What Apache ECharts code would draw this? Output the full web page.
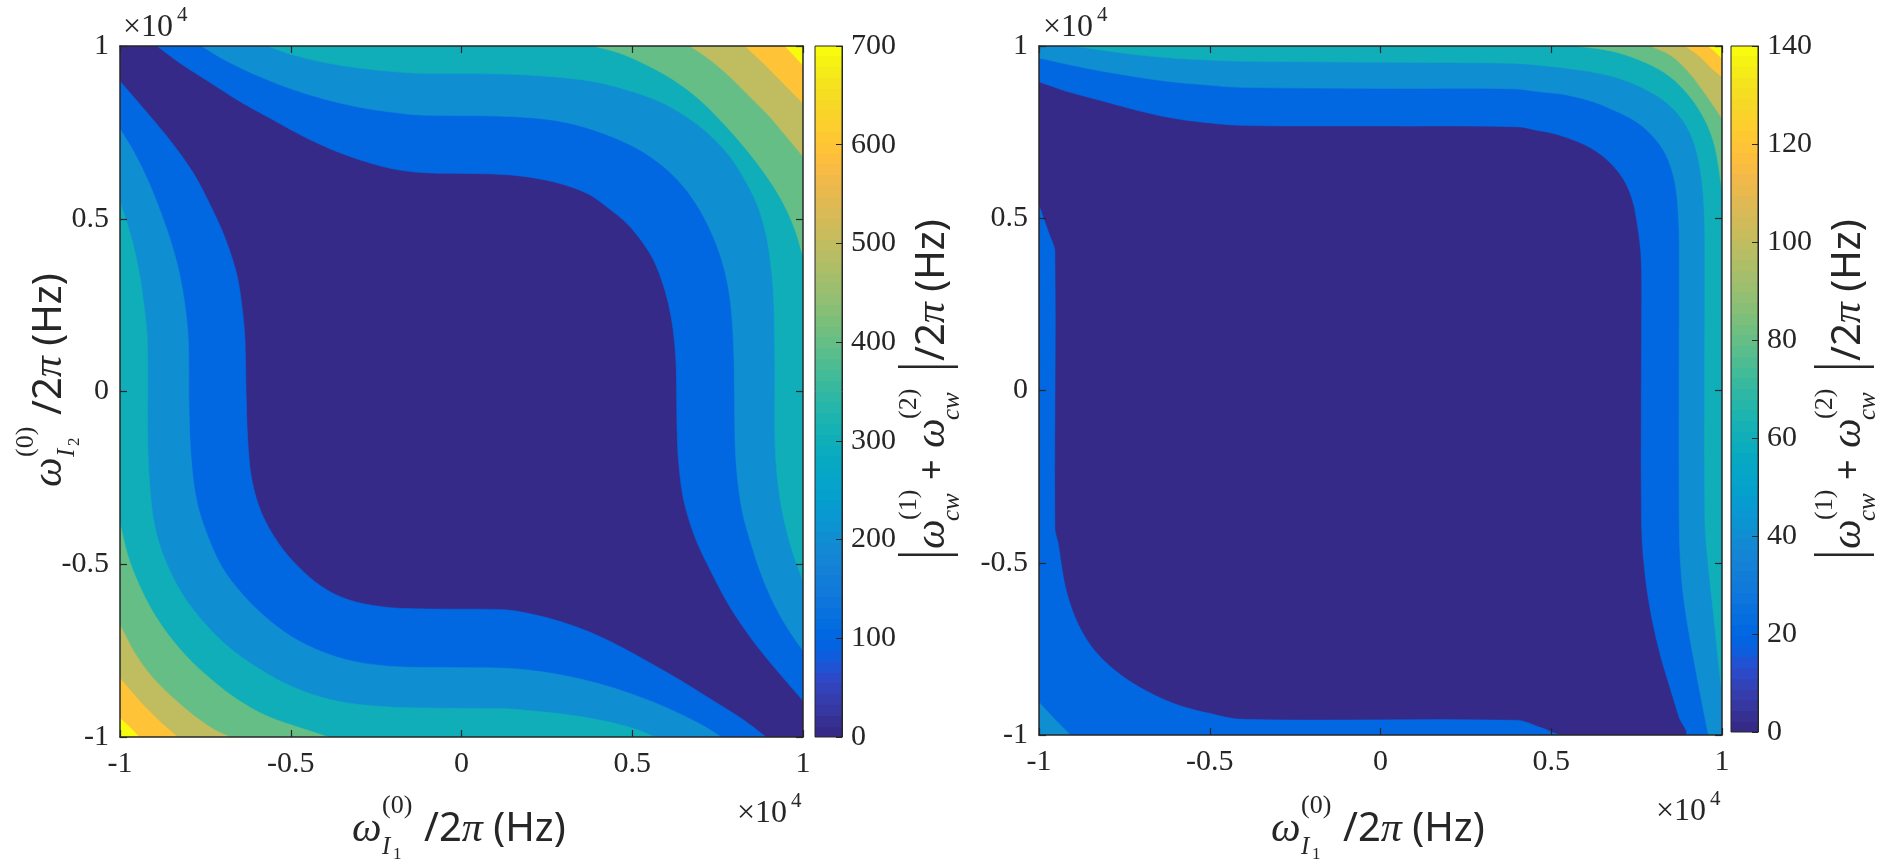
<!DOCTYPE html>
<html><head><meta charset="utf-8">
<script src="https://cdn.jsdelivr.net/npm/echarts@6/dist/echarts.min.js"></script>
<style>html,body{margin:0;padding:0;background:#fff}#c{width:1884px;height:867px}</style>
</head><body><div id="c"></div>
<script>
// ===== DATA (axis units = x10^4 Hz) =====
const leftLevels  = [0, 100, 200, 300, 400, 500, 600, 700];
const rightLevels = [0, 20, 40, 60, 80, 100, 120, 140];
const FULL = [[-1,-1],[1,-1],[1,1],[-1,1]];
const C_TR = [[1,1]], C_BL = [[-1,-1]];

// ---- left panel contour lines (band boundaries) ----
const L100_ur = [[-0.892,1],[-0.825,0.951],[-0.737,0.895],[-0.648,0.839],[-0.560,0.791],[-0.472,0.743],[-0.384,0.702],[-0.296,0.670],[-0.208,0.646],[-0.120,0.634],[0.074,0.630],[0.171,0.624],[0.269,0.607],[0.367,0.574],[0.425,0.535],[0.484,0.487],[0.532,0.429],[0.562,0.381],[0.586,0.323],[0.606,0.255],[0.620,0.178],[0.628,0.091],[0.630,0.004],[0.632,-0.140],[0.638,-0.228],[0.652,-0.320],[0.685,-0.425],[0.735,-0.530],[0.790,-0.630],[0.860,-0.730],[0.930,-0.815],[1,-0.895]];
const L100_ll = [[-1,0.898],[-0.930,0.818],[-0.860,0.735],[-0.789,0.638],[-0.737,0.542],[-0.693,0.446],[-0.657,0.334],[-0.640,0.221],[-0.634,0.149],[-0.631,0.004],[-0.626,-0.140],[-0.614,-0.256],[-0.585,-0.353],[-0.536,-0.439],[-0.478,-0.507],[-0.409,-0.565],[-0.331,-0.603],[-0.234,-0.623],[-0.136,-0.629],[-0.039,-0.630],[0.127,-0.632],[0.208,-0.645],[0.296,-0.668],[0.384,-0.700],[0.472,-0.742],[0.560,-0.790],[0.648,-0.840],[0.737,-0.895],[0.825,-0.950],[0.892,-1]];
const L200_ur = [[-0.761,1],[-0.70,0.963],[-0.60,0.915],[-0.50,0.876],[-0.40,0.846],[-0.30,0.823],[-0.20,0.808],[-0.122,0.800],[0.074,0.798],[0.220,0.791],[0.318,0.776],[0.415,0.747],[0.513,0.704],[0.591,0.651],[0.650,0.593],[0.698,0.525],[0.737,0.448],[0.762,0.381],[0.781,0.303],[0.791,0.226],[0.796,0.149],[0.799,0.053],[0.801,-0.140],[0.808,-0.25],[0.823,-0.35],[0.848,-0.44],[0.878,-0.53],[0.915,-0.615],[0.958,-0.69],[1,-0.750]];
const L200_ll = [[-1,0.760],[-0.96,0.695],[-0.92,0.615],[-0.885,0.53],[-0.853,0.44],[-0.828,0.35],[-0.810,0.25],[-0.800,0.149],[-0.798,-0.044],[-0.792,-0.189],[-0.776,-0.314],[-0.746,-0.411],[-0.702,-0.507],[-0.644,-0.584],[-0.575,-0.652],[-0.497,-0.710],[-0.409,-0.753],[-0.312,-0.782],[-0.185,-0.797],[-0.039,-0.799],[0.127,-0.801],[0.20,-0.807],[0.30,-0.822],[0.40,-0.845],[0.50,-0.876],[0.60,-0.915],[0.70,-0.963],[0.761,-1]];
const L300_ur = [[-0.567,1],[-0.50,0.976],[-0.40,0.952],[-0.30,0.936],[-0.20,0.926],[-0.122,0.921],[0.122,0.919],[0.269,0.911],[0.386,0.897],[0.484,0.873],[0.581,0.839],[0.659,0.795],[0.728,0.742],[0.786,0.680],[0.830,0.612],[0.864,0.545],[0.889,0.467],[0.903,0.390],[0.913,0.294],[0.916,0.197],[0.918,0.053],[0.918,-0.140],[0.925,-0.25],[0.940,-0.35],[0.965,-0.45],[1,-0.550]];
const L300_ll = [[-1,0.550],[-0.968,0.45],[-0.945,0.35],[-0.930,0.25],[-0.920,0.149],[-0.919,-0.140],[-0.912,-0.285],[-0.898,-0.391],[-0.868,-0.488],[-0.819,-0.584],[-0.761,-0.661],[-0.683,-0.739],[-0.595,-0.801],[-0.497,-0.854],[-0.380,-0.893],[-0.234,-0.912],[-0.039,-0.917],[0.127,-0.918],[0.20,-0.924],[0.30,-0.934],[0.40,-0.950],[0.50,-0.974],[0.567,-1]];
const L400_ur = [[0.386,1],[0.464,0.979],[0.542,0.945],[0.620,0.902],[0.698,0.844],[0.767,0.776],[0.835,0.699],[0.894,0.622],[0.942,0.545],[0.977,0.467],[1,0.390]];
const L400_ll = [[-1,-0.382],[-0.976,-0.478],[-0.946,-0.555],[-0.907,-0.632],[-0.858,-0.705],[-0.800,-0.772],[-0.731,-0.835],[-0.654,-0.893],[-0.566,-0.941],[-0.468,-0.975],[-0.390,-1]];
const L500_ur = [[0.669,1],[0.728,0.960],[0.786,0.911],[0.845,0.853],[0.903,0.795],[0.952,0.737],[1,0.680]];
const L500_ll = [[-1,-0.676],[-0.956,-0.758],[-0.907,-0.825],[-0.849,-0.883],[-0.780,-0.941],[-0.722,-0.980],[-0.678,-1]];
const L600_ur = [[0.830,1],[0.884,0.950],[0.942,0.892],[1,0.834]];
const L600_ll = [[-1,-0.830],[-0.936,-0.903],[-0.878,-0.960],[-0.831,-1]];
const L700_ur = [[0.947,1],[0.972,0.974],[1,0.944]];
const L700_ll = [[-1,-0.946],[-0.971,-0.972],[-0.944,-1]];

// ---- right panel contour lines ----
const R20_in = [[-1,0.894],[-0.913,0.865],[-0.815,0.839],[-0.718,0.813],[-0.620,0.791],[-0.522,0.777],[-0.405,0.768],[0.015,0.766],[0.399,0.764],[0.457,0.754],[0.516,0.742],[0.574,0.722],[0.623,0.698],[0.672,0.660],[0.711,0.611],[0.736,0.553],[0.750,0.485],[0.760,0.408],[0.763,0.340],[0.763,-0.395],[0.775,-0.550],[0.794,-0.666],[0.819,-0.773],[0.848,-0.869],[0.872,-0.947],[0.889,-1],[0.541,-1],[0.467,-0.976],[0.399,-0.956],[-0.405,-0.953],[-0.503,-0.935],[-0.591,-0.912],[-0.669,-0.879],[-0.737,-0.840],[-0.796,-0.795],[-0.845,-0.743],[-0.884,-0.678],[-0.913,-0.601],[-0.928,-0.536],[-0.942,-0.445],[-0.952,-0.399],[-0.952,0.405],[-0.967,0.450],[-0.981,0.489],[-1,0.543]];
const R40_top = [[-1,0.965],[-0.913,0.946],[-0.815,0.927],[-0.718,0.911],[-0.620,0.897],[-0.522,0.888],[-0.405,0.880],[0.015,0.877],[0.389,0.876],[0.467,0.867],[0.545,0.858],[0.623,0.838],[0.682,0.814],[0.741,0.785],[0.789,0.747],[0.828,0.698],[0.853,0.640],[0.867,0.572],[0.874,0.476],[0.875,0.398],[0.875,-0.395],[0.882,-0.550],[0.897,-0.666],[0.916,-0.773],[0.936,-0.879],[0.960,-1]];
const R40_corner = [[-1,-0.905],[-0.955,-0.953],[-0.908,-1]];
const R60 = [[-0.903,1],[-0.815,0.988],[-0.718,0.975],[-0.620,0.966],[-0.522,0.960],[-0.405,0.956],[0.015,0.953],[0.389,0.950],[0.486,0.942],[0.584,0.930],[0.682,0.911],[0.760,0.882],[0.828,0.843],[0.877,0.795],[0.911,0.737],[0.931,0.669],[0.943,0.592],[0.948,0.514],[0.950,0.437],[0.950,-0.376],[0.960,-0.511],[0.975,-0.647],[0.990,-0.792],[1,-0.879]];
const R80 = [[0.574,1],[0.682,0.984],[0.780,0.950],[0.848,0.911],[0.906,0.853],[0.950,0.785],[0.979,0.708],[1,0.582]];
const R100 = [[0.789,1],[0.848,0.974],[0.897,0.930],[0.936,0.882],[0.970,0.834],[1,0.790]];
const R120 = [[0.892,1],[0.936,0.969],[0.970,0.935],[1,0.911]];
const R140 = [[0.960,1],[0.979,0.984],[1,0.964]];

// regions: filled in order; band = colour level, line = contour, corners = plot corners closing the region
const leftRegions = [
  {band:0, line:FULL, corners:[], straight:true},
  {band:1, line:L100_ur, corners:C_TR},{band:1, line:L100_ll, corners:C_BL},
  {band:2, line:L200_ur, corners:C_TR},{band:2, line:L200_ll, corners:C_BL},
  {band:3, line:L300_ur, corners:C_TR},{band:3, line:L300_ll, corners:C_BL},
  {band:4, line:L400_ur, corners:C_TR},{band:4, line:L400_ll, corners:C_BL},
  {band:5, line:L500_ur, corners:C_TR},{band:5, line:L500_ll, corners:C_BL},
  {band:6, line:L600_ur, corners:C_TR},{band:6, line:L600_ll, corners:C_BL},
  {band:7, line:L700_ur, corners:C_TR},{band:7, line:L700_ll, corners:C_BL}
];
const rightRegions = [
  {band:1, line:FULL, corners:[], straight:true},
  {band:0, line:R20_in, corners:[]},
  {band:2, line:R40_top, corners:[[1,-1],[1,1],[-1,1]]},
  {band:2, line:R40_corner, corners:C_BL},
  {band:3, line:R60, corners:C_TR},
  {band:4, line:R80, corners:C_TR},
  {band:5, line:R100, corners:C_TR},
  {band:6, line:R120, corners:C_TR},
  {band:7, line:R140, corners:C_TR}
];

// ===== STYLE =====
const PARULA = [
[0.2081,0.1663,0.5292],[0.2116,0.1898,0.5777],[0.2123,0.2138,0.6270],[0.2081,0.2386,0.6771],[0.1959,0.2645,0.7279],[0.1707,0.2919,0.7792],[0.1253,0.3242,0.8303],[0.0591,0.3598,0.8683],
[0.0117,0.3875,0.8820],[0.0060,0.4086,0.8828],[0.0165,0.4266,0.8786],[0.0329,0.4430,0.8720],[0.0498,0.4586,0.8641],[0.0629,0.4737,0.8554],[0.0723,0.4887,0.8467],[0.0779,0.5040,0.8384],
[0.0793,0.5200,0.8312],[0.0749,0.5375,0.8263],[0.0641,0.5570,0.8240],[0.0488,0.5772,0.8228],[0.0343,0.5966,0.8199],[0.0265,0.6137,0.8135],[0.0239,0.6287,0.8038],[0.0231,0.6418,0.7913],
[0.0228,0.6535,0.7768],[0.0267,0.6642,0.7607],[0.0384,0.6743,0.7436],[0.0590,0.6838,0.7254],[0.0843,0.6928,0.7062],[0.1133,0.7015,0.6859],[0.1453,0.7098,0.6646],[0.1801,0.7177,0.6424],
[0.2178,0.7250,0.6193],[0.2586,0.7317,0.5954],[0.3022,0.7376,0.5712],[0.3482,0.7424,0.5473],[0.3953,0.7459,0.5244],[0.4420,0.7481,0.5033],[0.4871,0.7491,0.4840],[0.5300,0.7491,0.4661],
[0.5709,0.7485,0.4494],[0.6099,0.7473,0.4337],[0.6473,0.7456,0.4188],[0.6834,0.7435,0.4044],[0.7184,0.7411,0.3905],[0.7525,0.7384,0.3768],[0.7858,0.7356,0.3633],[0.8185,0.7327,0.3498],
[0.8507,0.7299,0.3360],[0.8824,0.7274,0.3217],[0.9139,0.7258,0.3063],[0.9450,0.7261,0.2886],[0.9739,0.7314,0.2666],[0.9938,0.7455,0.2403],[0.9990,0.7653,0.2164],[0.9955,0.7861,0.1967],
[0.9880,0.8066,0.1794],[0.9789,0.8271,0.1633],[0.9697,0.8481,0.1475],[0.9626,0.8705,0.1309],[0.9589,0.8949,0.1132],[0.9598,0.9218,0.0948],[0.9661,0.9514,0.0755],[0.9763,0.9831,0.0538]];
const rgb = c => 'rgb(' + c.map(v => Math.round(v*255)).join(',') + ')';
const BAND_IDX = [0, 9, 18, 27, 36, 45, 54, 63];
const BAND = BAND_IDX.map(i => rgb(PARULA[i]));
const INK = '#262626';
const SERIF = "'Liberation Serif', serif";
const SANS = "'Noto Sans', sans-serif";

const stops = [];
PARULA.forEach((c, i) => { stops.push({offset:i/64, color:rgb(c)}); stops.push({offset:(i+1)/64, color:rgb(c)}); });

// smooth path through the contour points (tangent-direction cubic segments), then straight to the corners
function regionPath(pix, cornersPix, straight) {
  const f = v => v.toFixed(2);
  let d = 'M' + f(pix[0][0]) + ' ' + f(pix[0][1]);
  if (straight) {
    for (let i = 1; i < pix.length; i++) d += 'L' + f(pix[i][0]) + ' ' + f(pix[i][1]);
  } else {
    const n = pix.length;
    const dir = pix.map((p, i) => {
      const a = pix[Math.max(0, i-1)], b = pix[Math.min(n-1, i+1)];
      const dx = b[0]-a[0], dy = b[1]-a[1], L = Math.hypot(dx, dy) || 1;
      return [dx/L, dy/L];
    });
    for (let i = 0; i < n-1; i++) {
      const p = pix[i], q = pix[i+1];
      const s = Math.hypot(q[0]-p[0], q[1]-p[1]) / 3;
      const c1 = [p[0] + dir[i][0]*s, p[1] + dir[i][1]*s];
      const c2 = [q[0] - dir[i+1][0]*s, q[1] - dir[i+1][1]*s];
      d += 'C' + f(c1[0]) + ' ' + f(c1[1]) + ' ' + f(c2[0]) + ' ' + f(c2[1]) + ' ' + f(q[0]) + ' ' + f(q[1]);
    }
  }
  cornersPix.forEach(c => { d += 'L' + f(c[0]) + ' ' + f(c[1]); });
  return d + 'Z';
}
function regionRender(regions) {
  return function (params, api) {
    const r = regions[params.dataIndex];
    const pix = r.line.map(p => api.coord(p));
    const cpix = r.corners.map(p => api.coord(p));
    return {type:'path', shape:{pathData:regionPath(pix, cpix, r.straight)},
      style:{fill:BAND[r.band], stroke:BAND[r.band], lineWidth:0.6}};
  };
}
function colorbarRender(vmax) {
  return function (params, api) {
    const a = api.coord([0, 0]);
    const b = api.coord([1, vmax]);
    return {type:'rect', shape:{x:a[0], y:b[1], width:b[0]-a[0], height:a[1]-b[1]},
      style:{fill:new echarts.graphic.LinearGradient(0,1,0,0,stops), stroke:INK, lineWidth:1}};
  };
}

function mkAxis(grid, pos, showLabel) {
  return {
    gridIndex:grid, type:'value', position:pos, min:-1, max:1, interval:0.5, z:5,
    axisLine:{show:true, onZero:false, lineStyle:{color:INK, width:1.5}},
    axisTick:{show:true, inside:true, length:7, lineStyle:{color:INK, width:1.2}},
    splitLine:{show:false},
    axisLabel:{show:showLabel, fontFamily:'Liberation Serif', fontSize:30, color:INK, margin:(pos==='bottom'?12:11), showMinLabel:true, showMaxLabel:true}
  };
}
function cbYAxis(grid, vmax, step) {
  return {gridIndex:grid, type:'value', position:'right', min:0, max:vmax, interval:step, z:5,
    axisLine:{show:true, onZero:false, lineStyle:{color:INK, width:1}},
    axisTick:{show:true, inside:true, length:6, lineStyle:{color:INK, width:1}},
    splitLine:{show:false},
    axisLabel:{show:true, fontFamily:'Liberation Serif', fontSize:30, color:INK, margin:9, showMinLabel:true, showMaxLabel:true}};
}

// ---- text helpers (math-style titles) ----
function txt(x, y, text, font) {
  return {type:'text', x:x, y:y, silent:true, style:{text:text, font:font, fill:INK, textAlign:'left', align:'left', textVerticalAlign:'middle', verticalAlign:'middle'}};
}
function restText(x, y) {
  return {type:'text', x:x, y:y, silent:true, style:{
    text:'{a|/2}{p|π}{a| (Hz)}', fill:INK, textVerticalAlign:'middle', verticalAlign:'middle',
    rich:{a:{font:'40px ' + SANS, fill:INK}, p:{font:'italic 42px ' + SERIF, fill:INK}}}};
}
function axisTitle(x, y, rot, sub) {
  return {type:'group', x:x, y:y, rotation:rot, silent:true, children:[
    txt(0, -13, 'ω', 'italic 42px ' + SERIF),
    txt(30, -37, '(0)', '26px ' + SERIF),
    txt(30, 4, 'I', 'italic 25px ' + SERIF),
    txt(41, 12, sub, '17px ' + SERIF),
    restText(72, -13)
  ]};
}
function cbTitle(x, y) {
  const bar = dx => ({type:'rect', x:dx, y:-48, silent:true, shape:{x:0, y:0, width:2.6, height:60}, style:{fill:INK}});
  return {type:'group', x:x, y:y, rotation:Math.PI/2, silent:true, children:[
    bar(2),
    txt(9, -13, 'ω', 'italic 42px ' + SERIF),
    txt(38, -37, '(1)', '26px ' + SERIF),
    txt(37, 6, 'cw', 'italic 25px ' + SERIF),
    txt(78, -12, '+', '36px ' + SANS),
    txt(110, -13, 'ω', 'italic 42px ' + SERIF),
    txt(139, -37, '(2)', '26px ' + SERIF),
    txt(138, 6, 'cw', 'italic 25px ' + SERIF),
    bar(190),
    restText(197, -13)
  ]};
}
function x10(x, y) {
  return {type:'group', x:x, y:y, silent:true, children:[
    txt(0, -11, '×10', '32px ' + SERIF),
    txt(54, -24, '4', '21px ' + SERIF)
  ]};
}

const chart = echarts.init(document.getElementById('c'), null, {renderer:'canvas'});
chart.setOption({
  animation:false,
  backgroundColor:'#ffffff',
  grid:[
    {left:120, top:46, width:683, height:691, containLabel:false, outerBoundsMode:'none'},
    {left:815, top:46, width:27, height:691, containLabel:false, outerBoundsMode:'none'},
    {left:1039, top:46, width:683, height:689, containLabel:false, outerBoundsMode:'none'},
    {left:1731, top:46, width:27, height:686, containLabel:false, outerBoundsMode:'none'}
  ],
  xAxis:[
    mkAxis(0, 'bottom', true),
    mkAxis(0, 'top', false),
    mkAxis(2, 'bottom', true),
    mkAxis(2, 'top', false),
    {gridIndex:1, type:'value', min:0, max:1, show:false},
    {gridIndex:3, type:'value', min:0, max:1, show:false}
  ],
  yAxis:[
    mkAxis(0, 'left', true),
    mkAxis(0, 'right', false),
    mkAxis(2, 'left', true),
    mkAxis(2, 'right', false),
    cbYAxis(1, leftLevels[leftLevels.length-1], leftLevels[1]-leftLevels[0]),
    cbYAxis(3, rightLevels[rightLevels.length-1], rightLevels[1]-rightLevels[0])
  ],
  series:[
    {type:'custom', xAxisIndex:0, yAxisIndex:0, clip:true, silent:true, z:1,
     data:leftRegions.map(r => r.line[0]), renderItem:regionRender(leftRegions)},
    {type:'custom', xAxisIndex:4, yAxisIndex:4, silent:true, z:1,
     data:[[0, leftLevels[leftLevels.length-1]]], renderItem:colorbarRender(leftLevels[leftLevels.length-1])},
    {type:'custom', xAxisIndex:2, yAxisIndex:2, clip:true, silent:true, z:1,
     data:rightRegions.map(r => r.line[0]), renderItem:regionRender(rightRegions)},
    {type:'custom', xAxisIndex:5, yAxisIndex:5, silent:true, z:1,
     data:[[0, rightLevels[rightLevels.length-1]]], renderItem:colorbarRender(rightLevels[rightLevels.length-1])}
  ],
  graphic:{elements:[
    axisTitle(352, 843, 0, '1'),
    axisTitle(1271, 843, 0, '1'),
    axisTitle(63, 487, Math.PI/2, '2'),
    cbTitle(946, 558),
    cbTitle(1862, 558),
    x10(123, 39),
    x10(737, 825),
    x10(1043, 39),
    x10(1656, 823)
  ]}
});
</script>
</body></html>
